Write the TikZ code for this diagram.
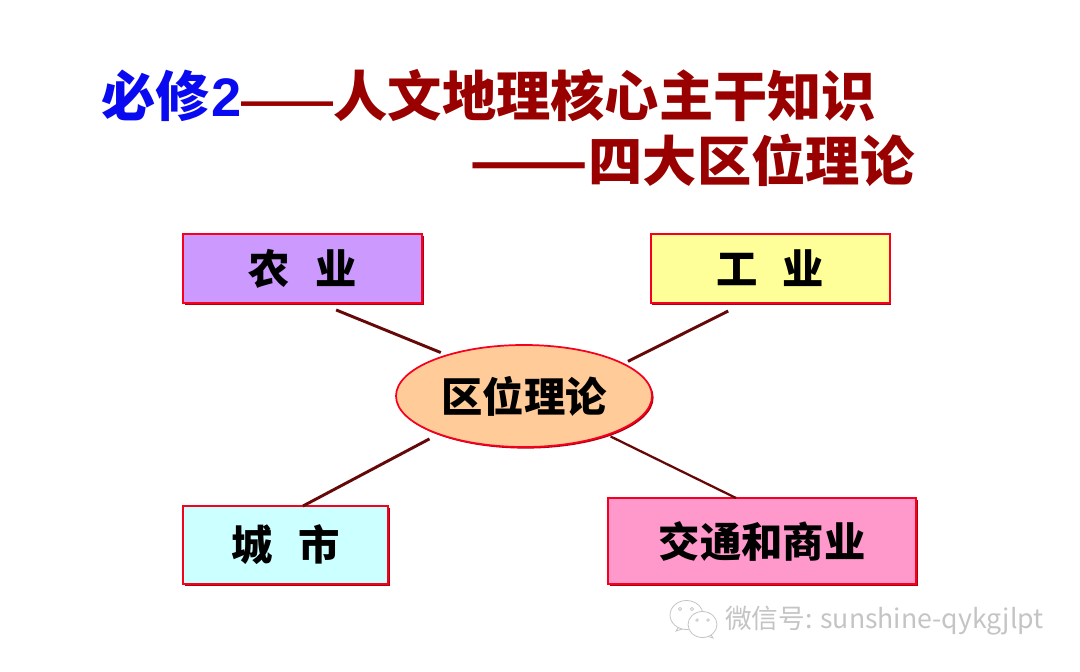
\documentclass[tikz,border=0pt]{standalone}
\usepackage{fontspec}
\usepackage{xcolor}
\usepackage{tikz}
\usetikzlibrary{positioning,calc,shapes.geometric,shadows}
\setmainfont{Noto Sans CJK SC}[WordSpace=2.7]
\newfontfamily\latinbold{Liberation Sans}[BoldFont=* Bold]
\newfontfamily\marcafont{Noto Sans CJK SC}
\definecolor{titulo}{HTML}{990000}
\definecolor{azul}{HTML}{0A0AF0}
\definecolor{borde}{HTML}{F5001E}
\definecolor{sombra}{HTML}{B00010}
\definecolor{enlace}{HTML}{660808}
\definecolor{lila}{HTML}{CC99FF}
\definecolor{crema}{HTML}{FFFF99}
\definecolor{celeste}{HTML}{CCFFFF}
\definecolor{rosa}{HTML}{FF99CC}
\definecolor{melon}{HTML}{FFCC99}
\definecolor{marca}{HTML}{C4C4C4}
\newcommand{\fuerte}{\bfseries\fontsize{31pt}{36pt}\selectfont}
\begin{document}
\begin{tikzpicture}[x=0.75pt,y=-0.75pt,
  box/.style={draw=borde,line width=1.3pt,inner sep=0pt,outer sep=0pt,align=center,font=\fuerte,drop shadow={shadow xshift=1.2pt,shadow yshift=-1.2pt,fill=sombra,opacity=1}},
  titlenode/.style={inner sep=0pt,outer sep=0pt,anchor=west,text=titulo,font=\bfseries\fontsize{40.7pt}{48pt}\selectfont},
  link/.style={draw=enlace,line width=2.2pt}]
\useasboundingbox (0,0) rectangle (1080,671);
% title
\node[titlenode] (linea1) at (101.5,95.5) {\textcolor{azul}{必修{\latinbold\kern1pt 2}}{\latinbold\fontsize{34.5pt}{40pt}\selectfont ——}人文地理核心主干知识};
\node[titlenode] (linea2) at (469.5,160.5) {\scalebox{1.28}[1]{——}四大区位理论};
% boxes
\node[box,fill=melon,ellipse,minimum width=192pt,minimum height=76.5pt] (centro) at (524,396) {区位理论};
\node[box,fill=lila,minimum width=179.25pt,minimum height=51.75pt] (agri) at (302.5,268.5) {农 业};
\node[box,fill=crema,minimum width=179.25pt,minimum height=51.75pt,right=171.5pt of agri] (indu) {工 业};
\node[box,fill=celeste,minimum width=153.75pt,minimum height=58.5pt,below=152.25pt of agri.south west,anchor=north west] (urbe) {城 市};
\node[box,fill=rosa,minimum width=231pt,minimum height=64.5pt,right=165pt of urbe.south east,anchor=south west] (tran) {交通和商业};
% connectors
\draw[link,shorten <=13.8pt,shorten >=5.25pt] ([xshift=12.4pt]agri.south)--(centro.152.8);
\draw[link,shorten <=13.4pt,shorten >=4pt] ([xshift=-19.5pt]indu.south)--(centro.18.3);
\draw[link,shorten >=7.8pt] ([xshift=13.1pt]urbe.north)--(centro.204.2);
\draw[link,line width=1.7pt,shorten >=2.9pt] ([xshift=-19.5pt]tran.north)--(centro.-25.7);
% watermark
\draw[marca,fill=white,line width=0.6pt] (680,625)--(676,631)--(685,628)--cycle;
\draw[marca,fill=white,line width=0.6pt] (686.5,615) ellipse (16.5 and 14.5);
\fill[white] (682,622) -- (678,627) -- (688,626) -- cycle;
\draw[marca,fill=white,line width=0.6pt] (710,633)--(713,638)--(704,635)--cycle;
\draw[marca,fill=white,line width=0.6pt] (702.5,624.5) ellipse (14.5 and 13);
\draw[marca,line width=0.5pt] (680,609) circle (1.6) (692,609) circle (1.6) (697,620) circle (1.3) (708,620) circle (1.3);
\node[inner sep=0pt,outer sep=0pt,anchor=west,text=marca,font=\marcafont\fontsize{20pt}{24pt}\selectfont] (marca) at (725,621) {微信号: sunshine-qykgjlpt};
\end{tikzpicture}
\end{document}
